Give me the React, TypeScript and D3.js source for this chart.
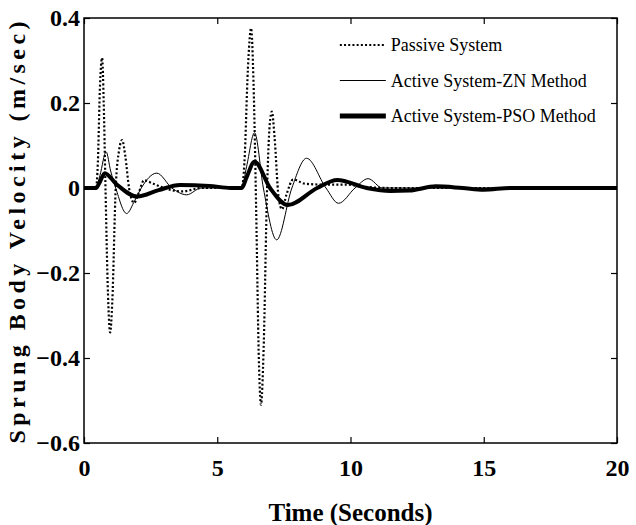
import React, { useEffect, useRef } from 'react';
import * as d3 from 'd3';

// time (s) / velocity (m/sec) samples
const passiveT = [0, 0.45, 0.52, 0.6, 0.68, 0.74, 0.8, 0.9, 0.98, 1.06, 1.19, 1.32, 1.43, 1.55, 1.69, 1.88, 2.05, 2.25, 2.6, 3.0, 3.7, 4.4, 5.0, 5.92, 6.02, 6.15, 6.27, 6.36, 6.46, 6.56, 6.64, 6.74, 6.87, 6.97, 7.05, 7.15, 7.3, 7.43, 7.6, 7.85, 8.3, 9.0, 9.8, 10.5, 11.5, 20];
const passiveV = [0, 0, 0.06, 0.24, 0.306, 0.2, 0.02, -0.25, -0.34, -0.27, 0, 0.09, 0.113, 0.075, 0, -0.035, -0.012, 0.018, 0.01, 0, -0.008, 0, 0, 0, 0.06, 0.28, 0.376, 0.25, -0.05, -0.4, -0.51, -0.38, 0, 0.15, 0.18, 0.12, -0.02, -0.05, -0.015, 0.02, 0.01, 0.008, 0.008, 0.003, 0, 0];

const znT = [0, 0.45, 0.6, 0.83, 1.0, 1.19, 1.6, 1.9, 2.15, 2.73, 3.3, 3.85, 4.4, 5.92, 6.1, 6.4, 6.73, 7.23, 7.8, 8.35, 9.08, 9.55, 10.17, 10.66, 11.2, 12, 20];
const znV = [0, 0, 0.03, 0.085, 0.04, 0, -0.06, -0.03, 0, 0.035, 0, -0.016, 0, 0, 0.05, 0.13, 0, -0.122, 0, 0.07, 0, -0.036, 0, 0.022, 0, 0, 0];

const psoT = [0, 0.45, 0.6, 0.78, 1.2, 2.0, 2.8, 3.6, 4.7, 5.5, 5.92, 6.1, 6.4, 6.98, 7.65, 8.75, 9.5, 10.6, 11.5, 12.2, 13.2, 14.2, 15.0, 16.0, 20];
const psoV = [0, 0, 0.015, 0.035, 0.01, -0.02, -0.005, 0.007, 0.005, 0, 0, 0.025, 0.062, 0, -0.04, 0, 0.019, 0, -0.007, -0.006, 0.004, 0, -0.004, 0, 0];

const xTicks = [0, 5, 10, 15, 20];
const yTicks = [-0.6, -0.4, -0.2, 0, 0.2, 0.4];
const legendLabels = ['Passive System', 'Active System-ZN Method', 'Active System-PSO Method'];

const W = 636;
const H = 525;
const FONT = '"Liberation Serif", "Times New Roman", serif';

const App = () => {
  const ref = useRef<SVGSVGElement>(null);

  useEffect(() => {
    const margin = { top: 18, right: 19, bottom: 82, left: 84 };
    const iw = W - margin.left - margin.right;
    const ih = H - margin.top - margin.bottom;

    const root = d3.select(ref.current);
    root.selectAll('*').remove();
    const svg = root.append('g').attr('transform', `translate(${margin.left},${margin.top})`);

    const x = d3.scaleLinear().domain([0, 20]).range([0, iw]);
    const y = d3.scaleLinear().domain([-0.6, 0.4]).range([ih, 0]);

    const series = [
      { t: passiveT, v: passiveV, width: 2.2, dash: '2,2.2' },
      { t: znT, v: znV, width: 1, dash: null },
      { t: psoT, v: psoV, width: 4, dash: null },
    ];

    const line = d3
      .line<[number, number]>()
      .x((d) => x(d[0]))
      .y((d) => y(d[1]))
      .curve(d3.curveMonotoneX);

    svg
      .append('defs')
      .append('clipPath')
      .attr('id', 'plot-clip')
      .append('rect')
      .attr('width', iw)
      .attr('height', ih);

    const plot = svg.append('g').attr('clip-path', 'url(#plot-clip)');
    series.forEach((s) => {
      const pts = s.t.map((t, i) => [t, s.v[i]] as [number, number]);
      plot
        .append('path')
        .attr('d', line(pts))
        .attr('fill', 'none')
        .attr('stroke', '#000')
        .attr('stroke-width', s.width)
        .attr('stroke-dasharray', s.dash)
        .attr('stroke-linejoin', 'round');
    });

    // frame with inward ticks on all four sides
    const fmtY = (d: d3.NumberValue) => (+d === 0 ? '0' : d3.format('.1f')(+d));
    const fmtX = (d: d3.NumberValue) => String(+d);
    const style = (g: d3.Selection<SVGGElement, unknown, null, undefined>) => {
      g.select('.domain').remove();
      g.selectAll('line').attr('stroke', '#000').attr('stroke-width', 1.2);
      g.selectAll('text')
        .attr('font-family', FONT)
        .attr('font-weight', 'bold')
        .attr('font-size', 24)
        .attr('fill', '#000');
    };

    svg
      .append('g')
      .attr('transform', `translate(0,${ih})`)
      .call(d3.axisBottom(x).tickValues(xTicks).tickSize(-6).tickPadding(16).tickFormat(fmtX))
      .call(style);
    svg
      .append('g')
      .call(d3.axisTop(x).tickValues(xTicks).tickSize(-6).tickFormat(() => ''))
      .call(style);
    svg
      .append('g')
      .call(d3.axisLeft(y).tickValues(yTicks).tickSize(-6).tickPadding(4).tickFormat(fmtY))
      .call(style);
    svg
      .append('g')
      .attr('transform', `translate(${iw},0)`)
      .call(d3.axisRight(y).tickValues(yTicks).tickSize(-6).tickFormat(() => ''))
      .call(style);

    svg
      .append('rect')
      .attr('width', iw)
      .attr('height', ih)
      .attr('fill', 'none')
      .attr('stroke', '#000')
      .attr('stroke-width', 1.5);

    // axis titles
    svg
      .append('text')
      .attr('x', iw / 2)
      .attr('y', ih + 78)
      .attr('text-anchor', 'middle')
      .attr('font-family', FONT)
      .attr('font-weight', 'bold')
      .attr('font-size', 25)
      .text('Time (Seconds)');

    svg
      .append('text')
      .attr('transform', `translate(${-59},${ih / 2 + 2}) rotate(-90)`)
      .attr('text-anchor', 'middle')
      .attr('font-family', FONT)
      .attr('font-weight', 'bold')
      .attr('font-size', 24)
      .attr('textLength', 422)
      .attr('lengthAdjust', 'spacing')
      .text('Sprung Body Velocity (m/sec)');

    // legend
    const legend = svg.append('g').attr('transform', `translate(${x(9.6)},${27})`);
    series.forEach((s, i) => {
      const row = legend.append('g').attr('transform', `translate(0,${i * 35.5})`);
      row
        .append('line')
        .attr('x1', 0)
        .attr('x2', 46)
        .attr('stroke', '#000')
        .attr('stroke-width', s.width === 4 ? 5 : s.width)
        .attr('stroke-dasharray', s.dash);
      row
        .append('text')
        .attr('x', 51)
        .attr('y', 6)
        .attr('font-family', FONT)
        .attr('font-size', 18)
        .text(legendLabels[i]);
    });
  }, []);

  return (
    <svg
      ref={ref}
      width={W}
      height={H}
      style={{ position: 'absolute', left: 0, top: 0, background: '#fff' }}
    />
  );
};

export default App;
